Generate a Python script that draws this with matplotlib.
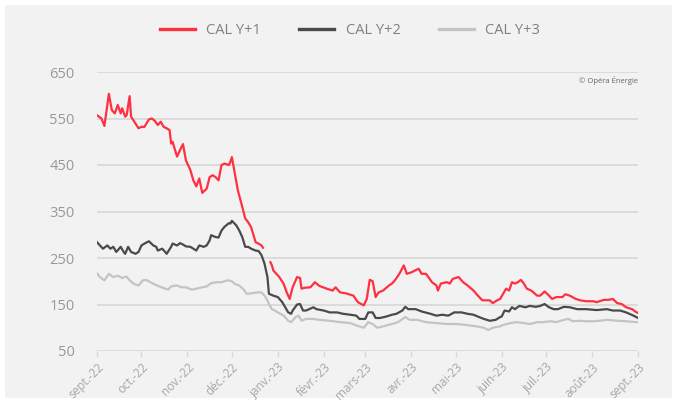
import pandas as pd
import numpy as np
import matplotlib
matplotlib.use("Agg")
import matplotlib.pyplot as plt
from matplotlib.patches import Rectangle

# CAL Y+1 (red), NaN marks the holiday gap
y1_dates = [
    "2022-09-01", "2022-09-04", "2022-09-06", "2022-09-09", "2022-09-11", "2022-09-13",
    "2022-09-15", "2022-09-17", "2022-09-18", "2022-09-20", "2022-09-21", "2022-09-23",
    "2022-09-24", "2022-09-27", "2022-09-29", "2022-10-01", "2022-10-03", "2022-10-06",
    "2022-10-08", "2022-10-10", "2022-10-12", "2022-10-14", "2022-10-16", "2022-10-18",
    "2022-10-20", "2022-10-21", "2022-10-22", "2022-10-25", "2022-10-27", "2022-10-29",
    "2022-10-31", "2022-11-03", "2022-11-05", "2022-11-07", "2022-11-09", "2022-11-11",
    "2022-11-14", "2022-11-16", "2022-11-18", "2022-11-20", "2022-11-22", "2022-11-24",
    "2022-11-26", "2022-11-29", "2022-11-30", "2022-12-01", "2022-12-03", "2022-12-05",
    "2022-12-08", "2022-12-10", "2022-12-12", "2022-12-14", "2022-12-17", "2022-12-19",
    "2022-12-21", "2022-12-22", "2022-12-25", "2022-12-27", "2022-12-28", "2022-12-29",
    "2022-12-31", "2023-01-02", "2023-01-05", "2023-01-07", "2023-01-09", "2023-01-11",
    "2023-01-14", "2023-01-16", "2023-01-17", "2023-01-19", "2023-01-23", "2023-01-26",
    "2023-01-29", "2023-02-03", "2023-02-07", "2023-02-09", "2023-02-12", "2023-02-16",
    "2023-02-21", "2023-02-24", "2023-02-28", "2023-03-02", "2023-03-04", "2023-03-06",
    "2023-03-08", "2023-03-10", "2023-03-13", "2023-03-17", "2023-03-19", "2023-03-21",
    "2023-03-24", "2023-03-27", "2023-03-29", "2023-04-01", "2023-04-06", "2023-04-08",
    "2023-04-11", "2023-04-15", "2023-04-18", "2023-04-19", "2023-04-21", "2023-04-25",
    "2023-04-27", "2023-04-29", "2023-05-03", "2023-05-06", "2023-05-09", "2023-05-13",
    "2023-05-16", "2023-05-19", "2023-05-24", "2023-05-26", "2023-05-29", "2023-05-31",
    "2023-06-02", "2023-06-04", "2023-06-06", "2023-06-08", "2023-06-10", "2023-06-12",
    "2023-06-14", "2023-06-16", "2023-06-18", "2023-06-21", "2023-06-25", "2023-06-27",
    "2023-06-30", "2023-07-03", "2023-07-05", "2023-07-08", "2023-07-12", "2023-07-14",
    "2023-07-17", "2023-07-21", "2023-07-24", "2023-07-28", "2023-08-02", "2023-08-04",
    "2023-08-09", "2023-08-12", "2023-08-15", "2023-08-18", "2023-08-21", "2023-08-24",
    "2023-08-28", "2023-08-31", "2023-09-01",
]
y1_values = [
    557, 550, 534, 603, 568, 561,
    579, 561, 572, 554, 557, 598,
    554, 539, 529, 532, 532, 548,
    550, 545, 536, 543, 532, 529,
    525, 496, 500, 468, 482, 495,
    460, 439, 417, 404, 421, 390,
    399, 424, 428, 424, 417, 450,
    453, 450, 457, 467, 432, 396,
    360, 335, 327, 316, 284, 281,
    277, 272, np.nan, 241, 234, 223,
    216, 209, 194, 176, 162, 187,
    209, 207, 184, 186, 187, 198,
    190, 184, 180, 187, 176, 174,
    169, 155, 148, 162, 203, 200,
    166, 176, 180, 191, 195, 202,
    216, 234, 216, 219, 227, 216,
    216, 198, 191, 180, 195, 198,
    195, 205, 209, 198, 191, 180,
    169, 159, 159, 153, 159, 162,
    173, 184, 180, 198, 195, 198,
    203, 195, 184, 180, 169, 169,
    178, 169, 162, 166, 166, 172,
    169, 162, 159, 157, 157, 155,
    160, 160, 162, 153, 151, 144,
    140, 133, 132,
]

# CAL Y+2 (dark grey)
y2_dates = [
    "2022-09-01", "2022-09-03", "2022-09-05", "2022-09-08", "2022-09-10", "2022-09-12",
    "2022-09-14", "2022-09-17", "2022-09-19", "2022-09-20", "2022-09-22", "2022-09-24",
    "2022-09-27", "2022-09-29", "2022-10-01", "2022-10-03", "2022-10-06", "2022-10-09",
    "2022-10-11", "2022-10-12", "2022-10-15", "2022-10-17", "2022-10-18", "2022-10-21",
    "2022-10-22", "2022-10-25", "2022-10-27", "2022-10-29", "2022-10-31", "2022-11-03",
    "2022-11-05", "2022-11-07", "2022-11-09", "2022-11-12", "2022-11-14", "2022-11-16",
    "2022-11-17", "2022-11-20", "2022-11-22", "2022-11-24", "2022-11-26", "2022-11-29",
    "2022-11-30", "2022-12-01", "2022-12-04", "2022-12-06", "2022-12-08", "2022-12-10",
    "2022-12-12", "2022-12-14", "2022-12-17", "2022-12-19", "2022-12-21", "2022-12-23",
    "2022-12-25", "2022-12-26", "2022-12-29", "2023-01-01", "2023-01-04", "2023-01-06",
    "2023-01-08", "2023-01-10", "2023-01-11", "2023-01-14", "2023-01-16", "2023-01-18",
    "2023-01-20", "2023-01-25", "2023-01-27", "2023-02-01", "2023-02-05", "2023-02-10",
    "2023-02-14", "2023-02-19", "2023-02-23", "2023-02-25", "2023-03-01", "2023-03-03",
    "2023-03-06", "2023-03-08", "2023-03-11", "2023-03-15", "2023-03-19", "2023-03-22",
    "2023-03-26", "2023-03-28", "2023-03-30", "2023-04-04", "2023-04-08", "2023-04-14",
    "2023-04-18", "2023-04-22", "2023-04-26", "2023-04-30", "2023-05-05", "2023-05-09",
    "2023-05-13", "2023-05-16", "2023-05-20", "2023-05-24", "2023-05-28", "2023-05-31",
    "2023-06-01", "2023-06-03", "2023-06-06", "2023-06-08", "2023-06-10", "2023-06-13",
    "2023-06-17", "2023-06-20", "2023-06-24", "2023-06-27", "2023-06-30", "2023-07-03",
    "2023-07-06", "2023-07-09", "2023-07-13", "2023-07-17", "2023-07-22", "2023-07-28",
    "2023-08-04", "2023-08-11", "2023-08-15", "2023-08-20", "2023-08-24", "2023-08-29",
    "2023-09-01",
]
y2_values = [
    284, 277, 270, 277, 270, 274,
    263, 274, 263, 259, 274, 263,
    259, 263, 277, 281, 286, 277,
    274, 266, 270, 263, 259, 274,
    281, 277, 282, 279, 275, 274,
    270, 266, 277, 274, 277, 288,
    299, 295, 294, 309, 317, 325,
    324, 330, 320, 309, 295, 274,
    274, 270, 266, 265, 256, 238,
    209, 173, 169, 166, 155, 144,
    133, 130, 137, 150, 151, 137,
    137, 144, 140, 137, 133, 133,
    130, 128, 126, 119, 119, 133,
    133, 121, 121, 124, 128, 130,
    137, 145, 140, 140, 135, 130,
    126, 128, 126, 133, 133, 130,
    128, 124, 119, 115, 117, 123,
    124, 137, 135, 144, 140, 147,
    144, 147, 145, 147, 151, 144,
    140, 140, 145, 144, 140, 140,
    138, 140, 137, 137, 133, 126,
    121,
]

# CAL Y+3 (light grey)
y3_dates = [
    "2022-09-01", "2022-09-03", "2022-09-06", "2022-09-09", "2022-09-12", "2022-09-15",
    "2022-09-18", "2022-09-21", "2022-09-23", "2022-09-26", "2022-09-29", "2022-10-02",
    "2022-10-04", "2022-10-07", "2022-10-10", "2022-10-13", "2022-10-17", "2022-10-19",
    "2022-10-21", "2022-10-25", "2022-10-28", "2022-10-31", "2022-11-04", "2022-11-07",
    "2022-11-11", "2022-11-14", "2022-11-17", "2022-11-21", "2022-11-24", "2022-11-28",
    "2022-12-01", "2022-12-03", "2022-12-06", "2022-12-09", "2022-12-11", "2022-12-14",
    "2022-12-18", "2022-12-21", "2022-12-23", "2022-12-25", "2022-12-26", "2022-12-28",
    "2022-12-30", "2023-01-01", "2023-01-05", "2023-01-08", "2023-01-10", "2023-01-13",
    "2023-01-15", "2023-01-17", "2023-01-20", "2023-01-25", "2023-01-29", "2023-02-05",
    "2023-02-12", "2023-02-19", "2023-02-23", "2023-02-25", "2023-02-28", "2023-03-03",
    "2023-03-06", "2023-03-09", "2023-03-13", "2023-03-19", "2023-03-23", "2023-03-28",
    "2023-03-31", "2023-04-05", "2023-04-11", "2023-04-18", "2023-04-25", "2023-05-02",
    "2023-05-08", "2023-05-15", "2023-05-20", "2023-05-23", "2023-05-26", "2023-05-31",
    "2023-06-02", "2023-06-07", "2023-06-11", "2023-06-16", "2023-06-20", "2023-06-25",
    "2023-06-29", "2023-07-04", "2023-07-08", "2023-07-13", "2023-07-16", "2023-07-19",
    "2023-07-24", "2023-07-28", "2023-08-02", "2023-08-06", "2023-08-11", "2023-08-18",
    "2023-08-24", "2023-08-31", "2023-09-01",
]
y3_values = [
    217, 209, 202, 216, 209, 212,
    207, 210, 202, 194, 191, 202,
    203, 198, 193, 189, 184, 182,
    189, 191, 187, 187, 182, 184,
    187, 189, 196, 198, 198, 202,
    200, 194, 191, 182, 173, 174,
    176, 176, 169, 159, 151, 140,
    137, 133, 126, 115, 112, 123,
    126, 115, 119, 119, 117, 115,
    112, 110, 105, 103, 100, 112,
    108, 100, 103, 108, 112, 123,
    117, 117, 112, 110, 108, 108,
    106, 103, 100, 95, 100, 103,
    106, 110, 112, 110, 108, 112,
    112, 114, 112, 117, 119, 114,
    115, 114, 114, 115, 117, 115,
    114, 112, 112,
]

series_labels = ["CAL Y+1", "CAL Y+2", "CAL Y+3"]
series_colors = ["#ff3040", "#4a4a4a", "#c4c4c4"]
month_labels = ["sept.-22", "oct.-22", "nov.-22", "déc.-22", "janv.-23", "févr.-23",
                "mars-23", "avr.-23", "mai-23", "juin-23", "juil.-23", "août-23", "sept.-23"]
y_ticks = [50, 150, 250, 350, 450, 550, 650]

plt.rcParams["font.family"] = ["Open Sans", "DejaVu Sans"]

fig = plt.figure(figsize=(6.78, 4.03), dpi=100)
fig.patch.set_facecolor("white")
# grey card behind everything
card = Rectangle((5 / 678, 5 / 403), 667 / 678, 393 / 403, transform=fig.transFigure,
                 facecolor="#f2f2f2", edgecolor="none", zorder=-10)
fig.add_artist(card)

ax = fig.add_axes([97 / 678, 1 - 351 / 403, 541 / 678, 279 / 403])
ax.set_zorder(1)
ax.set_facecolor("none")

all_series = [(y1_dates, y1_values), (y2_dates, y2_values), (y3_dates, y3_values)]
for (dates, values), label, color, z in zip(all_series, series_labels, series_colors, [5, 4, 3]):
    ax.plot(pd.to_datetime(dates), values, color=color, lw=1.6, label=label, zorder=z)

ax.set_ylim(50, 650)
ax.set_yticks(y_ticks)
ax.yaxis.grid(True, color="#d9d9d9", lw=1.3)
ax.set_axisbelow(True)

month_pos = pd.date_range("2022-09-01", "2023-09-01", freq="MS")
ax.set_xlim(month_pos[0], month_pos[-1])
ax.set_xticks(month_pos)
ax.set_xticklabels(month_labels, rotation=45, ha="right", rotation_mode="anchor",
                   fontsize=8.5, color="#a6a6a6")

for side in ["top", "right", "left", "bottom"]:
    ax.spines[side].set_visible(False)
ax.tick_params(axis="y", length=0, pad=16, labelsize=10.5, labelcolor="#999999")
ax.tick_params(axis="x", length=4, width=1, color="#d9d9d9", pad=3)

ax.text(1.0, 0.985, "© Opéra Énergie", transform=ax.transAxes, ha="right", va="top",
        fontsize=5.5, color="#666666")

leg = ax.legend(loc="center", bbox_to_anchor=(350 / 678, 1 - 31 / 403), ncol=3, frameon=False,
                bbox_transform=fig.transFigure, fontsize=10.5, labelcolor="#808080",
                handlelength=2.4, handletextpad=0.8, columnspacing=2.6)
for line in leg.get_lines():
    line.set_linewidth(2.4)

fig.savefig("out.png", dpi=100)
